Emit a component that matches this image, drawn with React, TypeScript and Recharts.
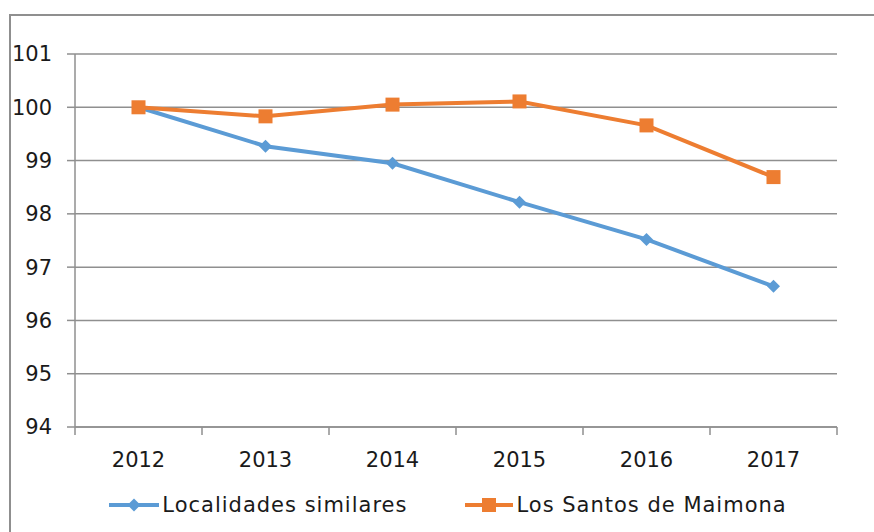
import React from 'react';
import { LineChart, Line, XAxis, YAxis, CartesianGrid } from 'recharts';

const years = ['2012', '2013', '2014', '2015', '2016', '2017'];
const localidades = [100, 99.27, 98.95, 98.22, 97.52, 96.64];
const santos = [100, 99.83, 100.05, 100.11, 99.66, 98.69];
const yTicks = [94, 95, 96, 97, 98, 99, 100, 101];
const seriesNames = ['Localidades similares', 'Los Santos de Maimona'];

const data = years.map((y, i) => ({ year: y, loc: localidades[i], san: santos[i] }));

const W = 874;
const H = 532;
const X_H = 30;
const M = { top: 54, right: 37, bottom: 105 - X_H, left: 0 };
const Y_W = 75;
const BAND = (W - M.right - Y_W) / years.length;
const BLUE = '#5B9BD5';
const ORANGE = '#ED7D31';
const FONT = 'DejaVu Sans';
const GRID = '#8f8f8f';
const TEXT = '#1a1a1a';
const AXIS_Y = H - 105;

const Diamond = (props: any) => {
  const { cx, cy } = props;
  if (cx == null || cy == null) return null;
  const r = 6.5;
  return <polygon points={`${cx},${cy - r} ${cx + r},${cy} ${cx},${cy + r} ${cx - r},${cy}`} fill={BLUE} />;
};
const Square = (props: any) => {
  const { cx, cy } = props;
  if (cx == null || cy == null) return null;
  const s = 14;
  return <rect x={cx - s / 2} y={cy - s / 2} width={s} height={s} fill={ORANGE} />;
};

const XTick = (props: any) => {
  const { x, payload, index } = props;
  return (
    <g>
      <line x1={x - BAND / 2} x2={x - BAND / 2} y1={AXIS_Y} y2={AXIS_Y + 8} stroke={GRID} strokeWidth={1.5} />
      {index === years.length - 1 && (
        <line x1={x + BAND / 2} x2={x + BAND / 2} y1={AXIS_Y} y2={AXIS_Y + 8} stroke={GRID} strokeWidth={1.5} />
      )}
      <text x={x} y={AXIS_Y + 40} textAnchor="middle" fill={TEXT} fontSize={21} fontFamily={FONT}>
        {payload.value}
      </text>
    </g>
  );
};

const Legend = () => (
  <div
    style={{
      position: 'absolute',
      left: 0,
      top: 493,
      width: 896,
      display: 'flex',
      justifyContent: 'center',
      alignItems: 'center',
      fontFamily: FONT,
      fontSize: 21,
      letterSpacing: 1,
      color: TEXT,
    }}
  >
    <svg width={50} height={20} style={{ marginRight: 3 }}>
      <line x1={0} x2={50} y1={10} y2={10} stroke={BLUE} strokeWidth={4} />
      <polygon points="25,3.5 31.5,10 25,16.5 18.5,10" fill={BLUE} />
    </svg>
    <span style={{ marginRight: 58 }}>{seriesNames[0]}</span>
    <svg width={48} height={20} style={{ marginRight: 3 }}>
      <line x1={0} x2={48} y1={10} y2={10} stroke={ORANGE} strokeWidth={4} />
      <rect x={17} y={3} width={14} height={14} fill={ORANGE} />
    </svg>
    <span>{seriesNames[1]}</span>
  </div>
);

export default function App() {
  return (
    <div style={{ position: 'absolute', left: 0, top: 0, width: W, height: H, background: '#fff', overflow: 'hidden' }}>
      <div
        style={{
          position: 'absolute',
          left: 9,
          top: 14,
          width: W,
          height: H,
          borderTop: `2px solid ${GRID}`,
          borderLeft: `2px solid ${GRID}`,
        }}
      />
      <div style={{ position: 'absolute', left: 0, top: 0 }}>
        <LineChart width={W} height={H} data={data} margin={M}>
          <CartesianGrid vertical={false} stroke={GRID} strokeWidth={1.5} />
          <XAxis
            dataKey="year"
            scale="band"
            height={X_H}
            axisLine={{ stroke: GRID, strokeWidth: 1.5 }}
            tickLine={false}
            tick={<XTick />}
            interval={0}
          />
          <YAxis
            domain={[94, 101]}
            ticks={yTicks}
            width={Y_W}
            axisLine={{ stroke: GRID, strokeWidth: 1.5 }}
            tickLine={{ stroke: GRID, strokeWidth: 1.5 }}
            tickSize={8}
            tickMargin={15}
            tick={{ fill: TEXT, fontSize: 21, fontFamily: FONT }}
            interval={0}
          />
          <Line
            dataKey="loc"
            stroke={BLUE}
            strokeWidth={4}
            dot={<Diamond />}
            activeDot={false}
            isAnimationActive={false}
          />
          <Line
            dataKey="san"
            stroke={ORANGE}
            strokeWidth={4}
            dot={<Square />}
            activeDot={false}
            isAnimationActive={false}
          />
        </LineChart>
      </div>
      <Legend />
    </div>
  );
}
